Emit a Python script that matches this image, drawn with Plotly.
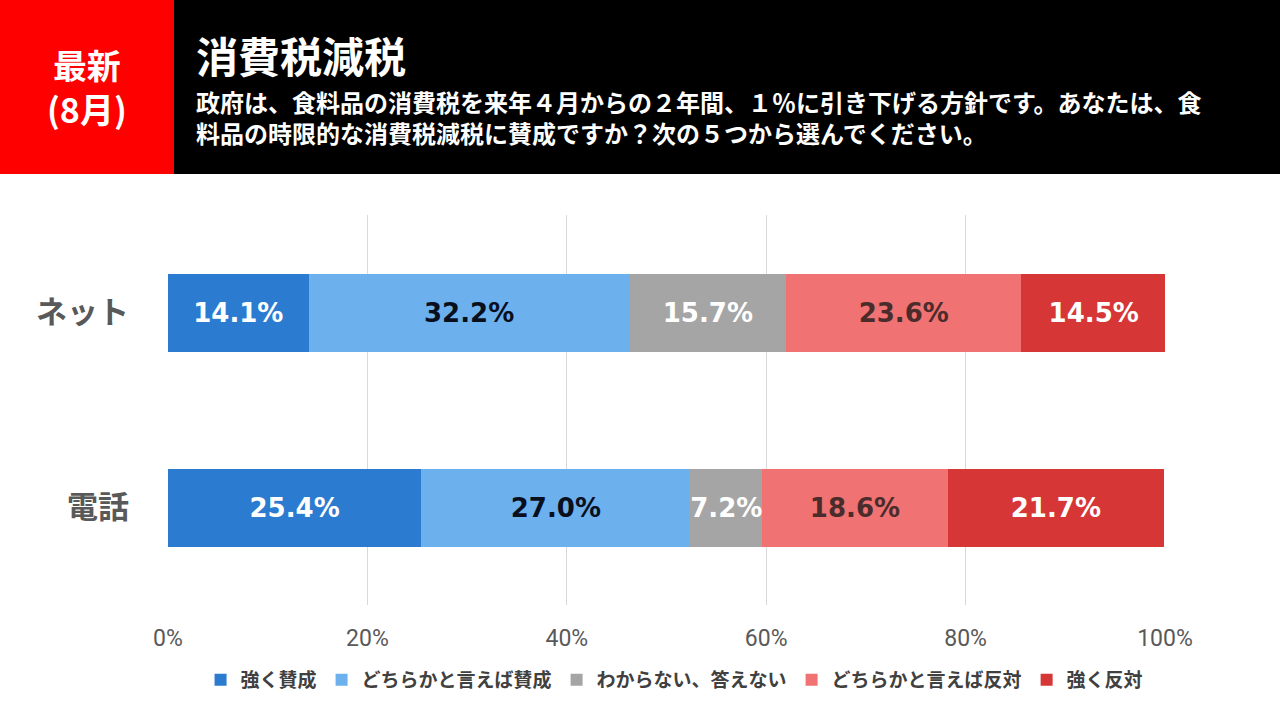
import plotly.graph_objects as go

# データ
categories = ["ネット", "電話"]
answers = ["強く賛成", "どちらかと言えば賛成", "わからない、答えない", "どちらかと言えば反対", "強く反対"]
net_values = [14.1, 32.2, 15.7, 23.6, 14.5]
phone_values = [25.4, 27.0, 7.2, 18.6, 21.7]
x_ticks = [0, 20, 40, 60, 80, 100]

colors = ["#2B7BD0", "#6CB1EE", "#A5A5A5", "#F07272", "#D63636"]
text_colors = ["white", "#0A0F1E", "white", "#4A2C2C", "white"]

FONT = "Noto Sans CJK JP"
NUM_FONT = "DejaVu Sans, Noto Sans CJK JP"
TICK_FONT = "Liberation Sans Narrow, Roboto, Noto Sans CJK JP"

fig = go.Figure()

for i, name in enumerate(answers):
    vals = [net_values[i], phone_values[i]]
    fig.add_trace(go.Bar(
        y=categories,
        x=vals,
        name=f"<b>{name}</b>",
        orientation="h",
        marker=dict(color=colors[i], line=dict(width=0)),
        text=[f"<b>{v:.1f}%</b>" for v in vals],
        textposition="inside",
        insidetextanchor="middle",
        textangle=0,
        constraintext="none",
        textfont=dict(family=NUM_FONT, size=26, color=text_colors[i]),
        hoverinfo="skip",
    ))

# ヘッダー
shapes = [
    dict(type="rect", xref="paper", yref="paper", x0=0, x1=1, y0=1 - 174 / 720, y1=1,
         fillcolor="black", line=dict(width=0), layer="below"),
    dict(type="rect", xref="paper", yref="paper", x0=0, x1=174 / 1280, y0=1 - 174 / 720, y1=1,
         fillcolor="#FF0000", line=dict(width=0), layer="below"),
]

question = ("政府は、食料品の消費税を来年４月からの２年間、１％に引き下げる方針です。あなたは、食"
            "<br>料品の時限的な消費税減税に賛成ですか？次の５つから選んでください。")

annotations = [
    dict(text="<b>最新<br>(8月)</b>", x=87 / 1280, y=1 - 86 / 720, xref="paper", yref="paper",
         showarrow=False, xanchor="center", yanchor="middle", align="center",
         font=dict(family=FONT, size=34, color="white")),
    dict(text="<b>消費税減税</b>", x=194 / 1280, y=1 - 55 / 720, xref="paper", yref="paper",
         showarrow=False, xanchor="left", yanchor="middle",
         font=dict(family=FONT, size=42, color="white")),
    dict(text=f"<b>{question}</b>",
         x=194 / 1280, y=1 - 117 / 720, xref="paper", yref="paper",
         showarrow=False, xanchor="left", yanchor="middle", align="left",
         font=dict(family=FONT, size=24, color="white")),
]

fig.update_layout(
    barmode="stack",
    bargap=0.6,
    width=1280,
    height=720,
    margin=dict(l=0, r=0, t=0, b=0, autoexpand=False),
    paper_bgcolor="white",
    plot_bgcolor="white",
    font=dict(family=FONT, color="#595959"),
    shapes=shapes,
    annotations=annotations,
    legend=dict(
        orientation="h",
        x=0.527, xanchor="center",
        y=1 - 680 / 720, yanchor="middle",
        font=dict(family=FONT, size=19, color="#404040"),
        itemwidth=30,
        traceorder="normal",
    ),
    xaxis=dict(
        domain=[168 / 1280, 1165 / 1280],
        range=[0, 100],
        tickvals=x_ticks,
        ticktext=[f"{t}%" for t in x_ticks],
        showgrid=True,
        gridcolor="#D9D9D9",
        gridwidth=1,
        zeroline=False,
        showline=False,
        ticks="",
        automargin=False,
        ticklabelstandoff=17,
        tickfont=dict(family=TICK_FONT, size=23, color="#595959"),
        fixedrange=True,
    ),
    yaxis=dict(
        domain=[1 - 605 / 720, 1 - 215 / 720],
        autorange="reversed",
        showgrid=False,
        zeroline=False,
        showline=False,
        ticks="",
        automargin=False,
        ticklabelstandoff=38,
        tickfont=dict(family=FONT, size=31, color="#595959"),
        tickvals=categories,
        ticktext=[f"<b>{c}</b>" for c in categories],
        fixedrange=True,
    ),
    showlegend=True,
)

fig.write_html(
    "out.html",
    config={"displayModeBar": False},
    post_script="document.body.style.margin='0';document.body.style.overflow='hidden';",
)
